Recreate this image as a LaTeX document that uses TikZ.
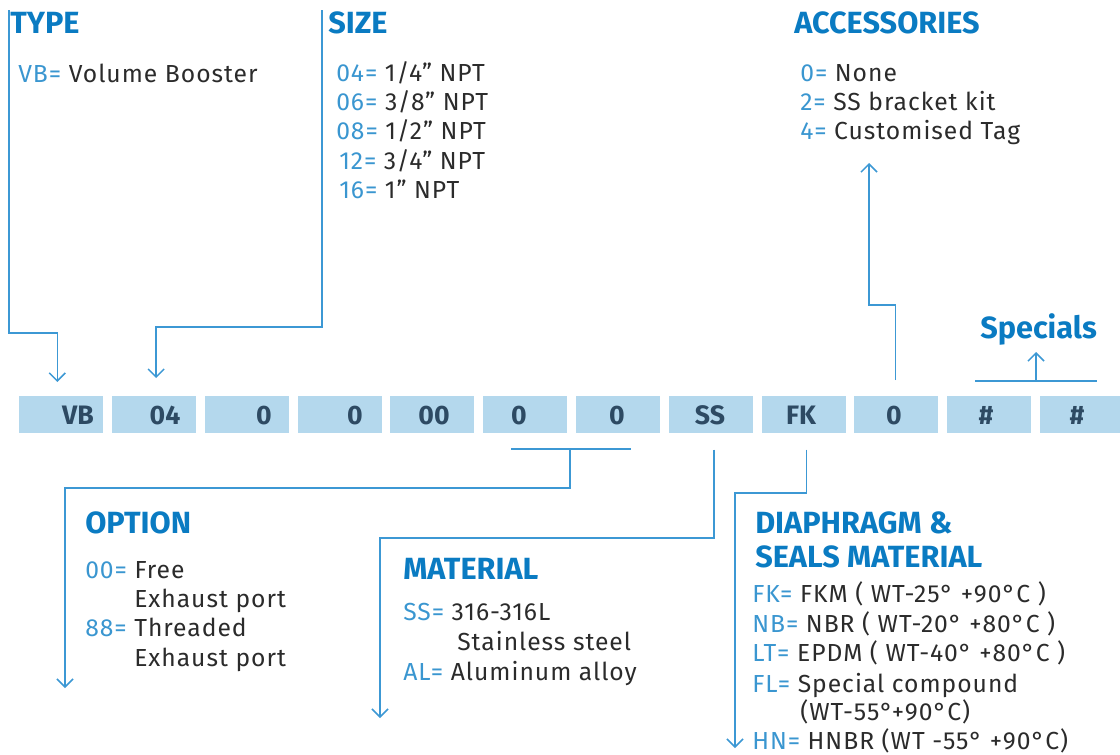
\documentclass[tikz,border=0pt]{standalone}
\usepackage{fontspec}
\setmainfont{Fira Sans}
\newfontfamily\itemfont[LetterSpace=4]{Fira Sans}
\usetikzlibrary{arrows.meta,calc}
\definecolor{ttl}{HTML}{0A7BC2}
\definecolor{codec}{HTML}{3A96D0}
\definecolor{txt}{HTML}{2B2B2B}
\definecolor{lnc}{HTML}{3C98D4}
\definecolor{boxc}{HTML}{B4D8ED}
\definecolor{labc}{HTML}{2D4A63}
\newcommand{\cd}[1]{\textcolor{codec}{#1}}
\tikzset{
  ln/.style={draw=lnc, line width=1.1pt},
  arr/.style={ln, -{Straight Barb[length=6pt,width=12pt]}},
  codebox/.style={fill=boxc, minimum width=63pt, minimum height=27.75pt, inner sep=0pt, anchor=north west},
  blab/.style={text=labc, font=\fontsize{20}{20}\selectfont\bfseries, anchor=base, inner sep=0pt},
  ttlt/.style={text=ttl, font=\fontsize{23}{26}\selectfont\bfseries, anchor=base west, inner sep=0pt},
  item/.style={text=txt, font=\itemfont\fontsize{18.5}{22}\selectfont, anchor=base west, inner sep=0pt},
}
\begin{document}
\begin{tikzpicture}[x=0.75pt,y=-0.75pt]
\useasboundingbox (0,0) rectangle (1120,754);
% code boxes
\foreach \i/\lx/\t in {0/78/VB,1/165/04,2/264/0,3/355/0,4/434/00,5/519/0,6/617/0,7/710/SS,8/801/FK,9/894/0,10/986/\#,11/1077/\#}{
  \node[codebox] (b\i) at (19+92.8*\i,396) {};
  \node[blab] (l\i) at (\lx,424) {\t};
}
% titles
\node[ttlt] (tType) at (10,33) {TYPE};
\node[ttlt] (tSize) at (328,33) {SIZE};
\node[ttlt] (tAcc) at (794,33) {ACCESSORIES};
\node[ttlt] (tSpec) at (980,338) {Specials};
\node[ttlt] (tOpt) at (85,533) {OPTION};
\node[ttlt] (tMat) at (403,579) {MATERIAL};
\node[ttlt] (tDia1) at (755,533) {DIAPHRAGM \&};
\node[ttlt] (tDia2) at (755,567) {SEALS MATERIAL};
% items
\node[item] (iVB) at (18,82) {\cd{VB=} Volume Booster};
\node[item] (s1) at (336,81) {\cd{04=} 1/4” NPT};
\node[item] (s2) at (336,110) {\cd{06=} 3/8” NPT};
\node[item] (s3) at (336,139) {\cd{08=} 1/2” NPT};
\node[item] (s4) at (339,169) {\cd{12=} 3/4” NPT};
\node[item] (s5) at (339,198) {\cd{16=} 1” NPT};
\node[item] (a1) at (800,81) {\cd{0=} None};
\node[item] (a2) at (800,110) {\cd{2=} SS bracket kit};
\node[item] (a3) at (800,139) {\cd{4=} Customised Tag};
\node[item] (o1) at (85,578) {\cd{00=} Free};
\node[item] (o2) at (134,607) {Exhaust port};
\node[item] (o3) at (85,636) {\cd{88=} Threaded};
\node[item] (o4) at (134,666) {Exhaust port};
\node[item] (m1) at (403,620) {\cd{SS=} 316-316L};
\node[item] (m2) at (457,650) {Stainless steel};
\node[item] (m3) at (403,680) {\cd{AL=} Aluminum alloy};
\node[item] (d1) at (752,602) {\cd{FK=} FKM ( WT-25° +90°C )};
\node[item] (d2) at (752,632) {\cd{NB=} NBR ( WT-20° +80°C )};
\node[item] (d3) at (752,661) {\cd{LT=} EPDM ( WT-40° +80°C )};
\node[item] (d4) at (752,692) {\cd{FL=} Special compound};
\node[item] (d5) at (800,720) {(WT-55°+90°C)};
\node[item] (d6) at (752,749) {\cd{HN=} HNBR (WT -55° +90°C)};
% connector end points
\coordinate (typeTop) at (9,10);
\coordinate (sizeTop) at (322,10);
\coordinate (vbIn) at ($(b0.north)+(-4,-14)$);
\coordinate (szIn) at ($(b1.north)+(2,-18)$);
\coordinate (accOut) at ($(b9.north)+(-1,-16)$);
\coordinate (accTip) at (869,163);
\coordinate (spL) at (975,381);
\coordinate (spR) at (1097,381);
\coordinate (spTip) at (1036,352);
\coordinate (opL) at (511,449);
\coordinate (opR) at (631,449);
\coordinate (opTip) at (65,688);
\coordinate (ssOut) at ($(b7.south)+(3,16)$);
\coordinate (matTip) at (380,718);
\coordinate (fkOut) at ($(b8.south)+(3,16)$);
\coordinate (diaTip) at (735,748);
% connectors
\draw[arr] (typeTop) -- (9,333) -| (vbIn);
\draw[arr] (sizeTop) -- (322,327) -| (szIn);
\draw[arr] (accOut) -- ($(accOut)+(0,-75)$) -| (accTip);
\draw[ln] (spL) -- (spR);
\draw[arr] (spL -| spTip) -- (spTip);
\draw[ln] (opL) -- (opR);
\draw[arr] (570,449) -- (570,488) -| (opTip);
\draw[arr] (ssOut) -- (ssOut |- 0,538) -| (matTip);
\draw[arr] (fkOut) -- (fkOut |- 0,493) -| (diaTip);
\end{tikzpicture}
\end{document}
